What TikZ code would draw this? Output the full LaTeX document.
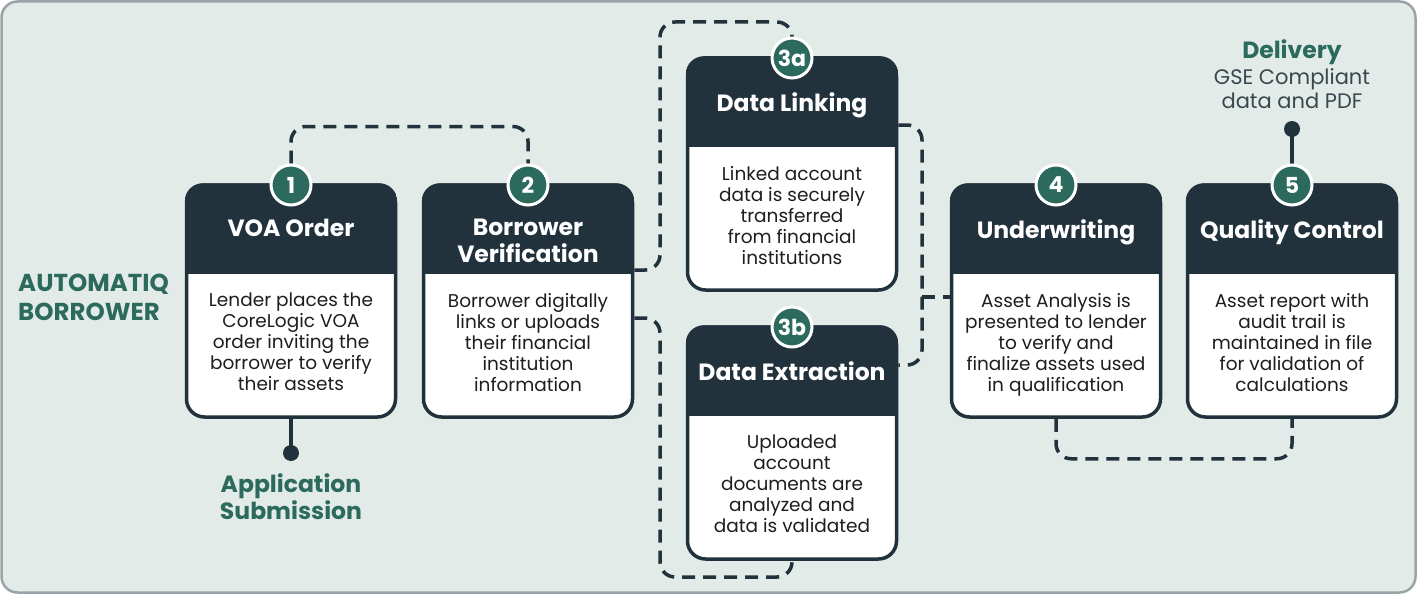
\documentclass[tikz,border=0pt]{standalone}
\usepackage{fontspec}
\setmainfont{Poppins}
\usetikzlibrary{backgrounds}

\begin{document}
\begin{tikzpicture}[x=1pt, y=-1pt,
  stagebox/.style={draw=navy, line width=3.5pt, fill=white, rounded corners=18pt,
    minimum width=209pt, minimum height=232pt, inner sep=0pt},
  badge/.style={circle, fill=teal, draw=white, line width=3pt, minimum size=40pt,
    inner sep=0pt, text=white, font=\bfseries\fontsize{22}{22}\selectfont},
  title/.style={anchor=north, inner sep=0pt, align=center, text=white,
    font=\bfseries\fontsize{23.5}{27}\selectfont},
  body/.style={anchor=north, inner sep=0pt, align=center, text=ink,
    font=\fontsize{18.5}{21}\selectfont},
  link/.style={draw=navy, line width=3.5pt, dash pattern=on 13pt off 8pt,
    rounded corners=15pt},
  stem/.style={draw=navy, line width=3.5pt},
  dot/.style={circle, fill=navy, minimum size=16pt, inner sep=0pt}]
  \definecolor{navy}{RGB}{34,50,61}
  \definecolor{teal}{RGB}{44,106,94}
  \definecolor{paper}{RGB}{226,235,232}
  \definecolor{rim}{RGB}{154,164,168}
  \definecolor{ink}{RGB}{30,30,30}
  \definecolor{slate}{RGB}{58,72,78}

  \useasboundingbox (0,0) rectangle (1417,594);
  \begin{scope}[on background layer]
    \draw[draw=rim, fill=paper, line width=2.5pt, rounded corners=16pt]
      (1.5,1.5) rectangle (1415.5,592.5);
  \end{scope}

  \node[anchor=west, align=left, inner sep=0pt, text=teal,
    font=\bfseries\fontsize{24.5}{29}\selectfont] (brand) at (18,297) {AUTOMATIQ\\BORROWER};

  % Stage cards
  \foreach \i/\x/\y/\ttl/\txt in {
    1/291/185/{VOA Order}/{Lender places the\\CoreLogic VOA\\order inviting the\\borrower to verify\\their assets},
    2/528/185/{Borrower\\Verification}/{Borrower digitally\\links or uploads\\their financial\\institution\\information},
    3a/792/58/{Data Linking}/{Linked account\\data is securely\\transferred\\from financial\\institutions},
    3b/792/327/{Data Extraction}/{Uploaded\\account\\documents are\\analyzed and\\data is validated},
    4/1056/185/{Underwriting}/{Asset Analysis is\\presented to lender\\to verify and\\finalize assets used\\in qualification},
    5/1292/185/{Quality Control}/{Asset report with\\audit trail is\\maintained in file\\for validation of\\calculations}} {
    \node[stagebox] (s\i) at (\x,\y+116) {};
    \begin{scope}
      \clip[rounded corners=18pt] (s\i.south west) rectangle (s\i.north east);
      \fill[navy] (s\i.north west) rectangle ([yshift=-91pt]s\i.north east);
    \end{scope}
    \node[title] (t\i) at (\x,\y+34) {\ttl};
    \node[body] (d\i) at (\x,\y+108) {\txt};
    \node[badge] (b\i) at (\x,\y) {\i};
  }

  % Dashed hand-offs
  \coordinate (j) at (922,297);
  \begin{scope}[on background layer]
    \draw[link] (b1.north) -- ++(0,-37) -| (b2.north);
    \draw[link] ([yshift=31pt]s2.east) -| (660,22) -| (b3a.north);
    \draw[link] ([yshift=-17pt]s2.east) -| (660,577) -| (s3b.south);
    \draw[link] ([yshift=49pt]s3a.east) -| (j) |- ([yshift=78pt]s3b.east);
    \draw[link] (j) -- (j -| s4.west);
    \draw[link] (s4.south) -- ++(0,40) -| (s5.south);
  \end{scope}

  % Start and end points
  \node[dot] (p1) at (291,453) {};
  \draw[stem] (s1.south) -- (p1.center);
  \node[align=center, text=teal, font=\bfseries\fontsize{23.5}{27}\selectfont]
    (apply) at (291,497) {Application\\Submission};

  \node[dot] (p5) at (1292,129) {};
  \begin{scope}[on background layer]
    \draw[stem] (p5.center) -- (b5.north);
  \end{scope}
  \node[text=teal, font=\bfseries\fontsize{23.5}{24}\selectfont] (deliv) at (1292,52) {Delivery};
  \node[anchor=north, align=center, inner sep=0pt, text=slate,
    font=\fontsize{21}{24}\selectfont] (gse) at (1292,68) {GSE Compliant\\data and PDF};
\end{tikzpicture}
\end{document}
